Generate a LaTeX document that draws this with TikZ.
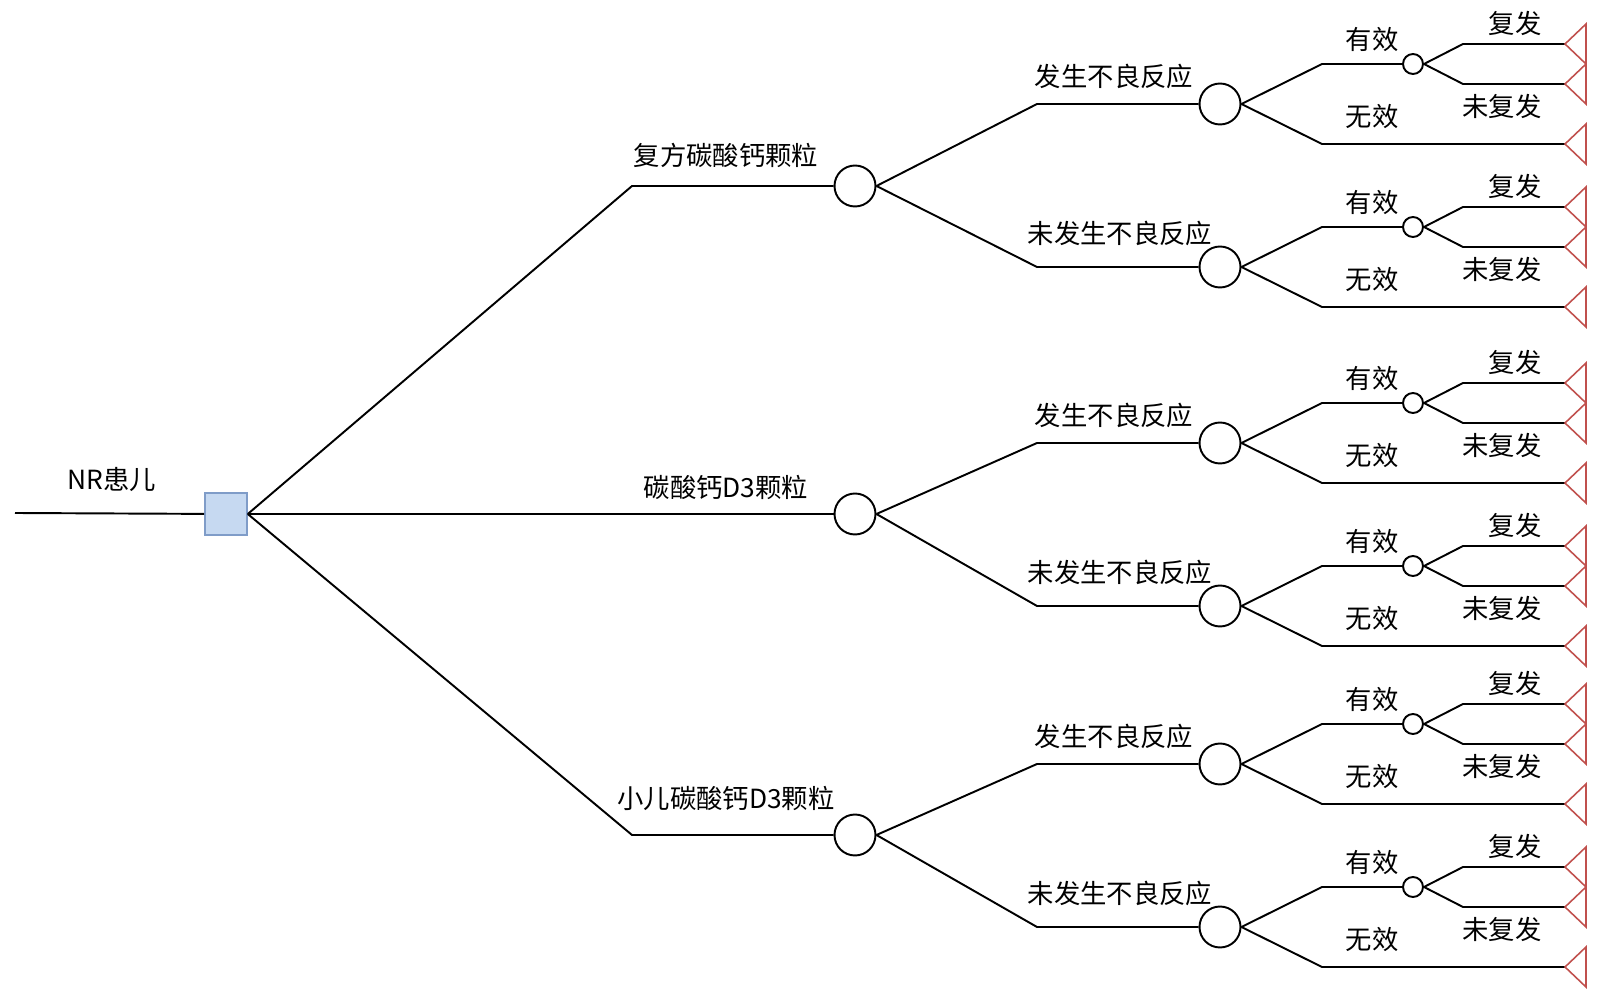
\documentclass[tikz,border=0pt]{standalone}
\usepackage{fontspec}
\setmainfont{Noto Sans CJK SC}
\usepackage{xcolor}
\usepackage{tikz}
\usetikzlibrary{calc}
\definecolor{sqfill}{HTML}{C6D9F1}
\definecolor{sqdraw}{HTML}{7F9CC8}
\definecolor{term}{HTML}{C0504D}
\tikzset{
  branch/.style={line width=1.1pt, draw=black},
  chance/.style={circle, draw, line width=1.1pt, minimum size=0.82cm, inner sep=0pt},
  minor/.style={circle, draw, line width=1.1pt, minimum size=0.4cm, inner sep=0pt},
  choice/.style={rectangle, draw=sqdraw, fill=sqfill, line width=0.9pt, minimum size=0.84cm, inner sep=0pt},
  endtri/.style={line width=0.9pt, draw=term},
  lab/.style={font=\fontsize{15pt}{18pt}\selectfont, inner sep=0pt},
}

\begin{document}
\begin{tikzpicture}[x=0.02cm, y=-0.02cm]
  \useasboundingbox (0,0) rectangle (1600,999);

  \coordinate (root) at (15,513);   % free end of the root line
  \node[choice] (dec) at (226,514) {};
  \draw[branch] (root) -- (dec);
  \node[lab] (rootlab) at (112,480) {NR患儿};

  \foreach \ya/\yb/\yc/\yl/\drug [count=\i] in
    {186/104/267/155/复方碳酸钙颗粒,
     514/443/606/487/碳酸钙D3颗粒,
     835/764/927/798/小儿碳酸钙D3颗粒}{
    \node[chance] (c\i) at (855,\ya) {};
    \coordinate (cb\i) at (632,\ya);
    \draw[branch] (dec.east) -- (cb\i) -- (c\i);
    \node[lab] at (726,\yl) {\drug};

    \foreach \y/\dy/\lx/\event [count=\j] in
      {\yb/28/1114/发生不良反应, \yc/34/1120/未发生不良反应}{
      \node[chance] (r\i\j) at (1220,\y) {};
      \coordinate (rb\i\j) at (1037,\y);
      \draw[branch] (c\i.east) -- (rb\i\j) -- (r\i\j);
      \node[lab] at (\lx,\y-\dy) {\event};

      % effective / not effective
      \node[minor] (e\i\j) at (1413,\y-40) {};
      \coordinate (eb\i\j) at (1322,\y-40);
      \coordinate (nb\i\j) at (1322,\y+40);
      \coordinate (tn\i\j) at (1565,\y+40);
      \draw[branch] (r\i\j.east) -- (eb\i\j) -- (e\i\j);
      \draw[branch] (r\i\j.east) -- (nb\i\j) -- (tn\i\j);
      \node[lab] at (1372,\y-64) {有效};
      \node[lab] at (1372,\y+13) {无效};

      % relapse / no relapse
      \coordinate (fb\i\j) at (1463,\y-60);
      \coordinate (ub\i\j) at (1463,\y-20);
      \coordinate (tf\i\j) at (1565,\y-60);
      \coordinate (tu\i\j) at (1565,\y-20);
      \draw[branch] (e\i\j.east) -- (fb\i\j) -- (tf\i\j);
      \draw[branch] (e\i\j.east) -- (ub\i\j) -- (tu\i\j);
      \node[lab] at (1515,\y-81) {复发};
      \node[lab] at (1502,\y+2) {未复发};

      \foreach \tip in {tf,tu,tn}
        \draw[endtri] (\tip\i\j) -- ++(21,-20) -- ++(0,40) -- cycle;
    }
  }
\end{tikzpicture}
\end{document}
